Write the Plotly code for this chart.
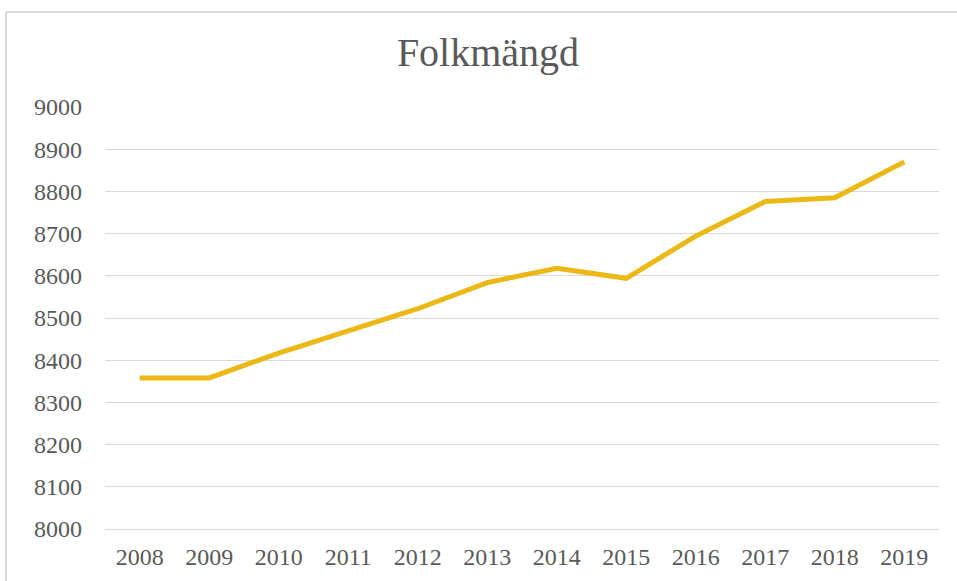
import plotly.graph_objects as go

# Population by year
years = ["2008", "2009", "2010", "2011", "2012", "2013",
         "2014", "2015", "2016", "2017", "2018", "2019"]
population = [8358, 8358, 8417, 8468, 8522, 8584,
              8618, 8594, 8694, 8776, 8785, 8870]

y_ticks = list(range(8000, 9001, 100))

FONT = "Georgia, 'Liberation Serif', 'DejaVu Serif', serif"
TEXT = "#595959"
GRID = "#D9D9D9"

W, H = 957, 581
ML, MR, MT, MB = 105, 18, 107, 52

fig = go.Figure(
    go.Scatter(
        x=years,
        y=population,
        mode="lines",
        line=dict(color="#EBB815", width=5),
        hoverinfo="x+y",
    )
)

# light frame of the chart area (top and left edges visible)
pw, ph = W - ML - MR, H - MT - MB
fx0, fx1 = (6 - ML) / pw, (W + 10 - ML) / pw
fy0, fy1 = -(MB + 10) / ph, (H - 12 - MB) / ph
for x0, y0, x1, y1 in [(fx0, fy1, fx1, fy1), (fx0, fy0, fx0, fy1)]:
    fig.add_shape(
        type="line", xref="paper", yref="paper",
        x0=x0, y0=y0, x1=x1, y1=y1,
        line=dict(color="#D9D9D9", width=2),
        layer="below",
    )

fig.update_layout(
    width=W, height=H,
    margin=dict(l=ML, r=MR, t=MT, b=MB, autoexpand=False),
    paper_bgcolor="white",
    plot_bgcolor="white",
    showlegend=False,
    title=dict(
        text="Folkmängd",
        x=(488 - ML) / pw, xanchor="center", xref="paper",
        y=(H - 52) / H, yanchor="middle",
        font=dict(family=FONT, size=40, color=TEXT),
    ),
    font=dict(family=FONT, color=TEXT),
    xaxis=dict(
        type="category",
        range=[-0.5, len(years) - 0.5],
        showgrid=False,
        showline=True,
        linecolor=GRID,
        linewidth=1,
        ticks="",
        ticklabelstandoff=6,
        tickfont=dict(family=FONT, size=24, color=TEXT),
        automargin=False,
        fixedrange=True,
    ),
    yaxis=dict(
        range=[8000, 9000],
        tickvals=y_ticks,
        ticktext=[str(v) for v in y_ticks],
        showgrid=True,
        gridcolor=GRID,
        gridwidth=1,
        zeroline=False,
        showline=False,
        ticks="",
        ticklabelstandoff=22,
        tickfont=dict(family=FONT, size=24, color=TEXT),
        automargin=False,
        fixedrange=True,
    ),
)

fig.write_html("out.html")
